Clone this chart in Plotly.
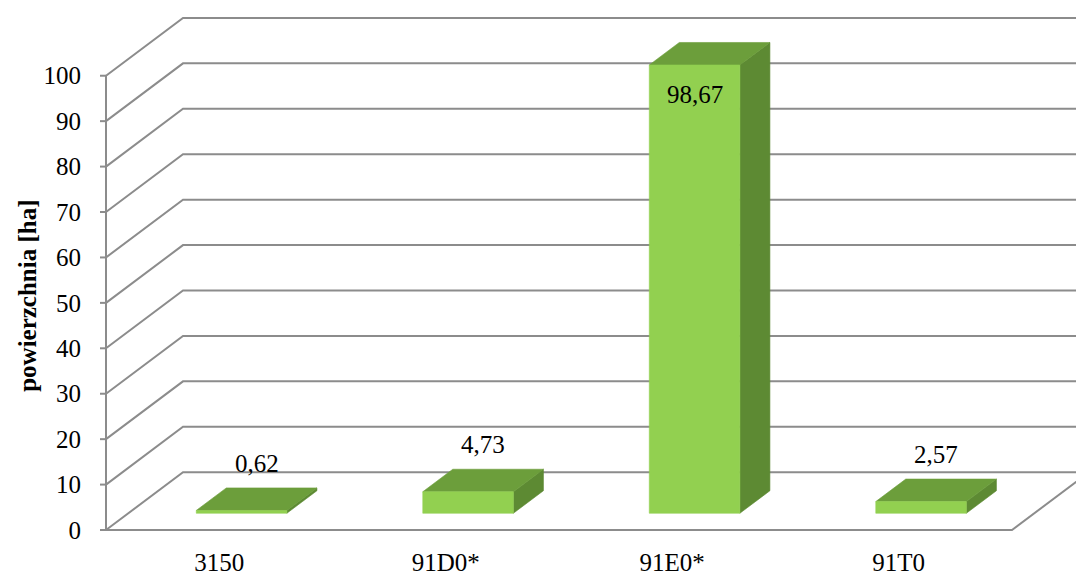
import plotly.graph_objects as go

# ---- data -------------------------------------------------------------
categories = ["3150", "91D0*", "91E0*", "91T0"]
values = [0.62, 4.73, 98.67, 2.57]
y_ticks = [0, 10, 20, 30, 40, 50, 60, 70, 80, 90, 100]
y_title = "powierzchnia [ha]"

# ---- oblique 3-D projection settings (category units / value units) ----
DEPTH_X = 0.34      # horizontal shift of the back wall
DEPTH_Y = 12.72     # vertical shift of the back wall
BAR_W = 0.40        # bar width as a fraction of a category slot
D_FRONT = 0.29      # depth fraction of the bar's front face
D_BACK = 0.68       # depth fraction of the bar's back face
TICK_LEN = 0.0265   # length of the outside tick marks

GRID = "#8c8c8c"
FRONT = "#92d050"
TOP = "#6c9e3b"
SIDE = "#5d8a33"
FONT = "Liberation Serif"
FSIZE = 25

n = len(categories)
fig = go.Figure()

# walls: left-wall diagonals joined to the back-wall gridlines
wx, wy = [], []
for t in y_ticks:
    wx += [0, DEPTH_X, n + DEPTH_X, None]
    wy += [t, t + DEPTH_Y, t + DEPTH_Y, None]
# front and right edge of the floor
wx += [0, n, n + DEPTH_X, None]
wy += [0, 0, DEPTH_Y, None]
# value axis line and its tick marks
wx += [0, 0, None]
wy += [y_ticks[0], y_ticks[-1], None]
for t in y_ticks:
    wx += [-TICK_LEN, 0, None]
    wy += [t, t, None]
fig.add_trace(go.Scatter(x=wx, y=wy, mode="lines",
                         line=dict(color=GRID, width=2),
                         hoverinfo="skip", showlegend=False))


def face(xs, ys, color):
    fig.add_trace(go.Scatter(x=xs + [xs[0]], y=ys + [ys[0]], mode="lines",
                             fill="toself", fillcolor=color,
                             line=dict(color=color, width=0.6),
                             hoverinfo="skip", showlegend=False))


dd = D_BACK - D_FRONT
for i, v in enumerate(values):
    xl = i + (1 - BAR_W) / 2 + D_FRONT * DEPTH_X
    xr = xl + BAR_W
    y0 = D_FRONT * DEPTH_Y
    y1 = v + D_FRONT * DEPTH_Y
    sx, sy = dd * DEPTH_X, dd * DEPTH_Y
    # side face
    face([xr, xr + sx, xr + sx, xr], [y0, y0 + sy, y1 + sy, y1], SIDE)
    # top face
    face([xl, xr, xr + sx, xl + sx], [y1, y1, y1 + sy, y1 + sy], TOP)
    # front face
    face([xl, xr, xr, xl], [y0, y0, y1, y1], FRONT)

    text = f"{v:.2f}".replace(".", ",")
    if v > 90:
        # tall bar: label sits inside the front face, just under its top
        fig.add_annotation(x=xl + BAR_W / 2, y=y1, text=text, showarrow=False,
                           xanchor="center", yanchor="middle", yshift=-29,
                           font=dict(family=FONT, size=FSIZE, color="black"))
    else:
        mid = (D_FRONT + D_BACK) / 2
        fig.add_annotation(x=i + 0.5 + mid * DEPTH_X, y=v + mid * DEPTH_Y,
                           text=text, showarrow=False, xanchor="center",
                           yanchor="middle", yshift=36,
                           font=dict(family=FONT, size=FSIZE, color="black"))

fig.add_annotation(xref="paper", yref="paper", x=-0.0694, y=0.446,
                   xanchor="center", yanchor="middle",
                   text=f"<b>{y_title}</b>", textangle=-90, showarrow=False,
                   font=dict(family=FONT, size=FSIZE, color="black"))

fig.update_layout(
    width=1076, height=576,
    margin=dict(l=96, r=0, t=0, b=40),
    paper_bgcolor="white", plot_bgcolor="white",
    showlegend=False,
    xaxis=dict(range=[-0.04415, 4.2826], showgrid=False, zeroline=False,
               showline=False, ticks="",
               tickvals=[i + 0.5 for i in range(n)], ticktext=categories,
               ticklabelstandoff=11,
               tickfont=dict(family=FONT, size=FSIZE, color="black")),
    yaxis=dict(range=[-0.877, 116.67], showgrid=False, zeroline=False,
               showline=False, ticks="", tickvals=y_ticks,
               ticklabelstandoff=14,
               tickfont=dict(family=FONT, size=FSIZE, color="black")),
)

fig.write_html("out.html")
